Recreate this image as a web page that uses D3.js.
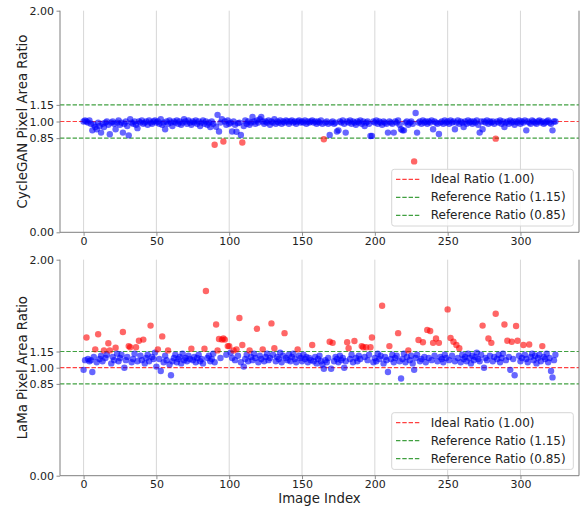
<!DOCTYPE html>
<html>
<head>
<meta charset="utf-8">
<script src="https://cdn.jsdelivr.net/npm/d3@7"></script>
<style>
  html, body { margin: 0; padding: 0; background: #fff; }
  svg { display: block; font-family: "DejaVu Sans", sans-serif; }
</style>
</head>
<body>
<svg id="chart" width="582" height="506"></svg>
<script>
// Pixel area ratios per image, one value per image index
const cycleganRatios = [
  1.00,1.01,1.00,0.99,1.01,0.98,0.92,0.97,0.95,0.93,0.99,0.96,0.90,0.98,0.95,0.99,1.00,0.97,0.885,0.99,1.00,0.98,0.93,0.99,1.01,
  0.97,0.99,0.90,0.98,1.00,0.96,0.875,1.02,0.99,0.98,1.00,0.97,0.94,1.00,0.99,1.01,0.98,0.99,1.00,0.97,1.01,0.99,0.98,1.00,1.01,
  0.99,1.00,0.98,1.02,0.97,0.99,0.93,1.00,0.98,1.01,0.99,0.96,1.00,0.99,1.01,0.98,1.00,0.97,0.99,1.02,1.00,0.98,1.01,0.99,0.97,
  1.00,0.99,1.01,0.98,1.00,0.96,0.99,1.01,0.98,1.00,0.97,0.99,0.95,1.00,0.98,0.79,0.953,1.06,0.91,0.99,1.02,0.82,1.00,0.97,1.01,
  0.98,0.99,0.91,1.00,0.97,0.908,0.985,0.99,0.878,0.81,0.96,1.01,0.98,1.00,0.97,0.99,1.04,1.00,0.98,1.01,0.99,1.02,1.04,1.00,0.98,
  1.00,0.99,1.01,0.97,1.00,0.99,1.02,0.98,1.00,0.99,1.01,0.98,1.00,0.99,1.01,1.00,0.98,1.00,1.01,0.99,1.00,0.98,1.00,1.01,0.99,
  1.00,0.99,1.01,0.98,1.00,0.99,1.00,1.01,0.99,1.00,0.98,1.00,0.99,1.01,0.98,0.84,0.99,1.00,0.98,0.878,0.99,1.00,0.98,0.99,0.91,
  0.92,1.00,0.99,1.01,0.98,0.90,1.00,0.99,1.01,0.98,1.00,0.99,0.97,1.00,0.99,1.01,0.98,1.00,0.96,0.99,1.00,0.98,0.869,0.87,1.00,
  0.99,1.01,0.98,1.00,0.99,0.97,1.00,0.99,0.98,0.90,1.00,0.99,0.98,0.90,1.00,0.99,1.01,0.97,0.93,0.92,0.92,0.99,1.00,0.97,0.99,
  1.00,0.98,0.64,1.077,0.90,0.99,1.00,0.98,1.01,0.99,1.00,0.98,1.00,0.99,1.01,0.93,1.00,0.99,0.98,0.887,0.99,1.00,0.98,1.01,0.99,
  1.00,0.98,1.01,0.99,1.00,0.93,0.99,1.01,0.98,1.00,0.99,0.95,1.00,0.98,1.01,0.99,1.00,0.98,1.00,0.99,1.01,0.97,0.90,1.00,0.93,
  1.00,0.99,1.01,0.98,1.00,0.99,1.00,0.98,0.845,1.00,0.99,1.01,0.98,1.00,0.95,0.99,1.00,0.98,1.01,0.99,1.00,0.97,1.00,0.99,1.01,
  0.98,1.00,0.99,1.01,0.92,1.00,0.99,0.98,1.01,1.00,0.99,0.98,1.00,1.01,0.99,1.00,0.98,0.99,1.00,1.01,0.99,0.98,0.92,1.00,1.00
];

const lamaRatios = [
  0.98,1.07,1.28,1.08,1.06,1.07,0.96,1.10,1.17,1.05,1.31,1.08,1.11,1.06,1.16,1.09,1.12,1.226,1.16,1.04,1.10,1.07,1.185,1.13,1.06,
  1.09,1.12,1.33,1.00,1.07,1.10,1.20,1.19,1.05,1.08,1.13,1.19,1.06,1.25,1.11,1.07,1.26,1.04,1.09,1.12,1.06,1.39,1.10,1.08,1.14,
  1.01,1.17,1.08,0.97,1.29,1.05,1.11,1.07,1.16,1.03,0.93,1.06,1.09,1.12,1.05,1.08,1.10,1.04,1.13,1.07,1.09,1.06,1.11,1.08,1.176,
  1.07,1.10,1.05,1.09,1.12,1.06,1.08,1.04,1.176,1.71,1.09,1.11,1.06,1.08,1.13,1.05,1.40,1.16,1.266,1.09,1.26,1.27,1.26,1.12,1.20,
  1.20,1.14,1.09,1.16,1.07,1.17,1.11,1.46,1.05,1.21,1.01,1.08,1.12,1.06,1.16,1.10,1.07,1.13,1.09,1.36,1.05,1.11,1.08,1.17,1.06,
  1.10,1.13,1.07,1.09,1.41,1.12,1.18,1.06,1.10,1.08,1.14,1.05,1.11,1.32,1.09,1.07,1.12,1.06,1.10,1.13,1.08,1.05,1.17,1.11,1.09,
  1.06,1.12,1.08,1.10,1.05,1.09,1.07,1.21,1.06,1.10,1.04,1.08,1.11,1.06,1.03,0.99,1.07,1.05,1.09,1.24,0.99,1.23,1.06,1.10,1.08,
  1.05,1.11,1.07,1.09,1.00,1.06,1.235,1.18,1.08,1.12,1.05,1.247,1.09,1.06,1.11,1.08,1.20,1.19,1.10,1.19,1.07,1.12,1.19,1.28,1.05,
  1.09,1.06,1.13,1.08,1.11,1.574,1.04,1.10,1.07,0.96,1.20,1.08,1.12,1.05,1.09,1.11,1.32,1.06,0.90,1.08,1.13,1.05,1.10,1.16,1.07,
  1.11,1.04,0.98,1.09,1.12,1.256,1.06,1.08,1.236,1.10,1.05,1.35,1.09,1.34,1.07,1.23,1.11,1.27,1.06,1.23,1.10,1.08,1.05,1.12,1.09,
  1.54,1.07,1.275,1.11,1.24,1.06,1.21,1.09,1.18,1.05,1.12,1.08,1.10,1.06,1.13,1.09,1.04,1.11,1.07,1.10,1.14,1.08,1.06,1.12,1.39,
  1.00,1.09,1.07,1.27,1.11,1.23,1.06,1.10,1.50,1.08,1.12,1.05,1.09,1.13,1.40,1.07,1.25,1.10,0.98,1.24,1.08,0.93,1.386,1.25,1.11,
  1.06,1.09,1.21,1.12,1.08,1.05,1.215,1.10,1.13,1.07,1.11,1.04,1.09,1.12,1.06,1.20,1.10,1.08,1.13,1.05,1.09,0.97,0.91,1.07,1.12
];

const panelTitles = ["CycleGAN Pixel Area Ratio", "LaMa Pixel Area Ratio"];
const xTicks = [0, 50, 100, 150, 200, 250, 300];
const yTicks = [0, 0.85, 1.0, 1.15, 2.0];
const refLines = [
  { value: 1.00, label: "Ideal Ratio (1.00)", color: "#ff0000" },
  { value: 1.15, label: "Reference Ratio (1.15)", color: "#008000" },
  { value: 0.85, label: "Reference Ratio (0.85)", color: "#008000" }
];
const lowerBound = 0.85, upperBound = 1.15;

const svg = d3.select("#chart");
const left = 60, right = 579;
const panels = [
  { data: cycleganRatios, top: 10.7, bottom: 232.3, title: panelTitles[0], xlabel: false },
  { data: lamaRatios, top: 259.7, bottom: 475.7, title: panelTitles[1], xlabel: true }
];

const n = cycleganRatios.length;
const pad = (n - 1) * 0.05;
const x = d3.scaleLinear().domain([-pad, n - 1 + pad]).range([left, right]);

const spineColor = "#7f7f7f";
const textColor = "#222";

panels.forEach(p => {
  const y = d3.scaleLinear().domain([0, 2]).range([p.bottom, p.top]);
  const g = svg.append("g");

  // vertical grid at the x ticks
  g.append("g").selectAll("line").data(xTicks).join("line")
    .attr("x1", d => x(d)).attr("x2", d => x(d))
    .attr("y1", p.top).attr("y2", p.bottom)
    .attr("stroke", "#b0b0b0").attr("stroke-opacity", 0.5).attr("stroke-width", 1);

  // reference lines
  g.append("g").selectAll("line").data(refLines).join("line")
    .attr("x1", left).attr("x2", right)
    .attr("y1", d => y(d.value)).attr("y2", d => y(d.value))
    .attr("stroke", d => d.color).attr("stroke-opacity", 0.75)
    .attr("stroke-width", 1.2).attr("stroke-dasharray", "4.4,1.9");

  // points, red when outside the reference band
  g.append("g").selectAll("circle").data(p.data).join("circle")
    .attr("cx", (d, i) => x(i)).attr("cy", d => y(d)).attr("r", 3.2)
    .attr("fill", d => (d > upperBound || d < lowerBound) ? "#ff0000" : "#0000ff")
    .attr("fill-opacity", 0.6);

  // axes
  const yAxis = d3.axisLeft(y).tickValues(yTicks).tickFormat(d3.format(".2f"))
    .tickSizeOuter(0).tickSizeInner(3.5).tickPadding(2.5);
  const ya = g.append("g").attr("transform", `translate(${left},0)`).call(yAxis);
  const xAxis = d3.axisBottom(x).tickValues(xTicks).tickFormat(d3.format("d"))
    .tickSizeOuter(0).tickSizeInner(3.5).tickPadding(1);
  const xa = g.append("g").attr("transform", `translate(0,${p.bottom})`).call(xAxis);
  [ya, xa].forEach(a => {
    a.select(".domain").remove();
    a.selectAll(".tick line").attr("stroke", spineColor).attr("stroke-width", 0.9);
    a.selectAll(".tick text").attr("fill", textColor).style("font-size", "11px")
      .style("font-family", "'DejaVu Sans', sans-serif");
  });

  // spines: left, bottom, right
  g.append("line").attr("x1", left).attr("x2", left).attr("y1", p.top).attr("y2", p.bottom)
    .attr("stroke", spineColor).attr("stroke-width", 1);
  g.append("line").attr("x1", left).attr("x2", right).attr("y1", p.bottom).attr("y2", p.bottom)
    .attr("stroke", spineColor).attr("stroke-width", 1);
  g.append("line").attr("x1", right).attr("x2", right).attr("y1", p.top).attr("y2", p.bottom)
    .attr("stroke", spineColor).attr("stroke-width", 1);

  // y axis title
  g.append("text")
    .attr("transform", `translate(22,${(p.top + p.bottom) / 2}) rotate(-90)`)
    .attr("text-anchor", "middle").attr("dominant-baseline", "central")
    .attr("fill", textColor).style("font-size", "13.3px")
    .text(p.title);

  if (p.xlabel) {
    g.append("text").attr("x", (left + right) / 2).attr("y", 503)
      .attr("text-anchor", "middle").attr("fill", textColor).style("font-size", "13.3px")
      .text("Image Index");
  }

  // legend
  const lw = 181.6, lh = 56.7;
  const lx = right - 5.7 - lw, ly = p.bottom - 6.3 - lh;
  const leg = g.append("g").attr("transform", `translate(${lx},${ly})`);
  leg.append("rect").attr("width", lw).attr("height", lh).attr("rx", 2.5)
    .attr("fill", "#fff").attr("fill-opacity", 0.8)
    .attr("stroke", "#d6d6d6").attr("stroke-width", 1);
  refLines.forEach((r, i) => {
    const ry = 10 + i * 18;
    leg.append("line").attr("x1", 4.3).attr("x2", 29).attr("y1", ry).attr("y2", ry)
      .attr("stroke", r.color).attr("stroke-opacity", 0.75)
      .attr("stroke-width", 1.2).attr("stroke-dasharray", "4.4,1.9");
    leg.append("text").attr("x", 39).attr("y", ry).attr("dominant-baseline", "central")
      .attr("fill", textColor).style("font-size", "12px").text(r.label);
  });
});
</script>
</body>
</html>
